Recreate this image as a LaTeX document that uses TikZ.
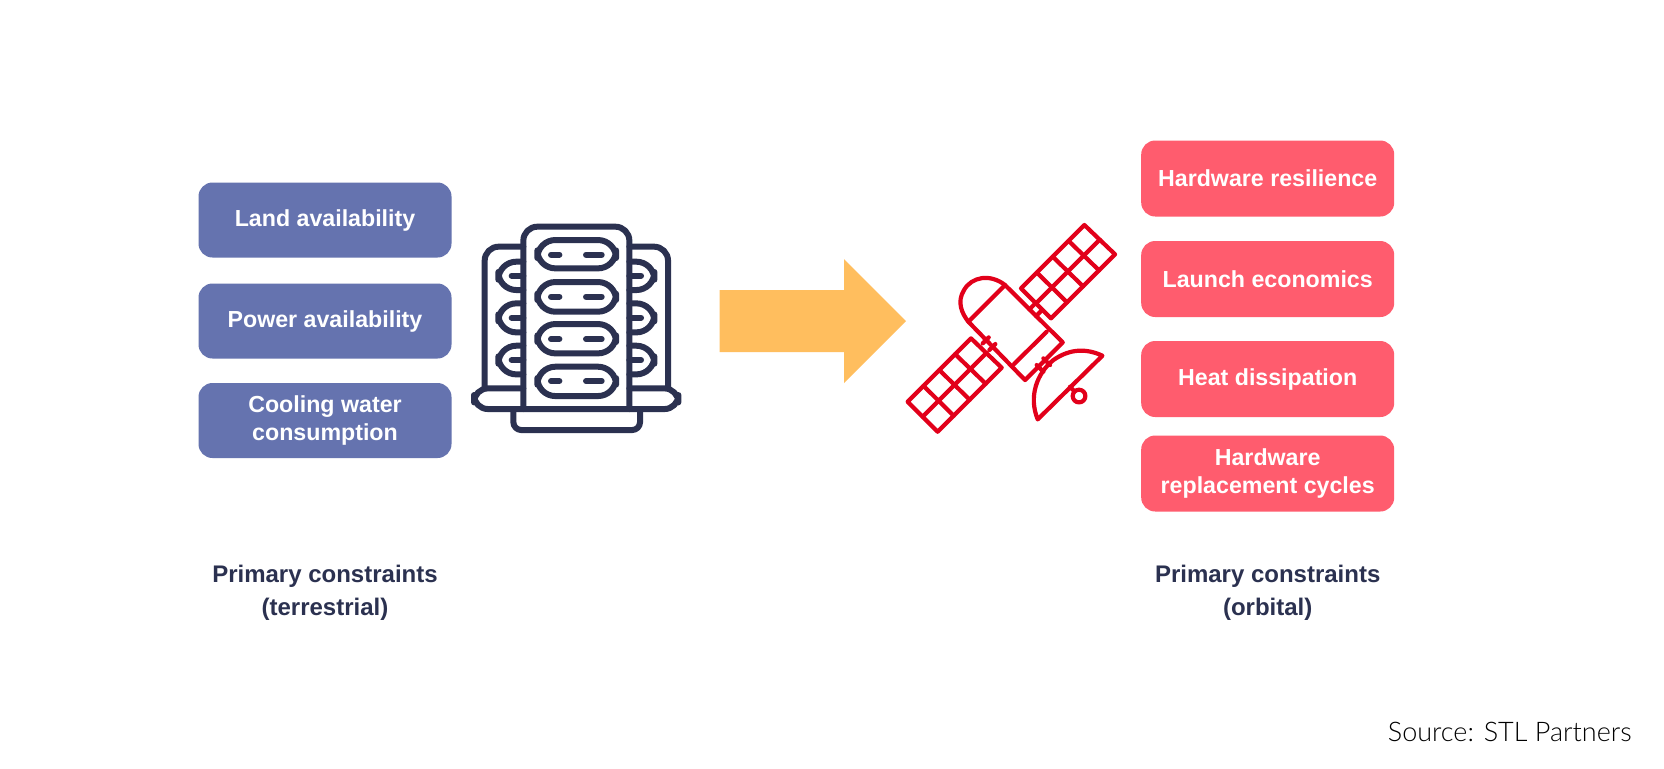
\documentclass[tikz,border=0pt]{standalone}
\usepackage{fontspec}
\setmainfont{Liberation Sans}
\newfontfamily\srcfont{Lato Light}
\definecolor{bluebox}{HTML}{6573AF}
\definecolor{redbox}{HTML}{FF5C6E}
\definecolor{navy}{HTML}{2B3150}
\definecolor{satred}{HTML}{E2001A}
\definecolor{arrowc}{HTML}{FFBE5E}
\tikzset{
  px/.style={x=0.5pt,y=-0.5pt},
  tile/.style={rounded corners=7pt,minimum width=126.5pt,inner sep=0pt,align=center,text=white,font=\fontsize{11.6}{14.4}\selectfont\bfseries},
  bluetile/.style={tile,fill=bluebox,minimum height=37.5pt},
  redtile/.style={tile,fill=redbox,minimum height=38pt},
  captext/.style={text=navy,align=center,font=\fontsize{12}{16.5}\selectfont\bfseries,inner sep=0pt},
  srv/.style={draw=navy,line width=3pt,line join=round,line cap=round,rounded corners=4pt},
  sat/.style={draw=satred,line width=2.1pt,line join=round,line cap=round},
}
\begin{document}
\begin{tikzpicture}[px]
\useasboundingbox (0,0) rectangle (1664,768);
\fill[white] (0,0) rectangle (1664,768);
\node[bluetile] (a1) at (325,220) {Land availability};
\node[bluetile] (a2) at (325,321) {Power availability};
\node[bluetile] (a3) at (325,420.5) {Cooling water\\consumption};
\node[redtile] (b1) at (1267.7,178.5) {Hardware resilience};
\node[redtile] (b2) at (1267.7,279) {Launch economics};
\node[redtile] (b3) at (1267.7,379) {Heat dissipation};
\node[redtile] (b4) at (1267.7,473.5) {Hardware\\replacement cycles};
\node[captext] (c1) at (325,592.5) {Primary constraints\\(terrestrial)};
\node[captext] (c2) at (1267.7,592.5) {Primary constraints\\(orbital)};
\node[anchor=east,inner sep=0pt,font=\fontsize{13.5}{15}\selectfont\srcfont] (s) at (1632,731.5) {Source: STL Partners};
\fill[arrowc] (719.5,290) -- (844,290) -- (844,259) -- (906,321) -- (844,383) -- (844,352) -- (719.5,352) -- cycle;
% server icon
\begin{scope}[shift={(460,210)},x=0.1667pt,y=-0.1667pt]
 \draw[srv,rounded corners=7pt] (190,597) -- (190,50) -- (508,50) -- (508,597);
 \foreach \ya/\yb in {90/175,216/305,342/430,470/558}{
   \draw[srv,rounded corners=9pt] (232,\ya) rectangle (468,\yb);
 }
 \foreach \yy in {134,260,387,513}{
   \draw[srv] (273,\yy) -- (298,\yy);
   \draw[srv] (378,\yy) -- (425,\yy);
 }
 \draw[srv,rounded corners=7pt] (74,530) -- (74,110) -- (190,110);
 \draw[srv,rounded corners=7pt] (624,530) -- (624,110) -- (508,110);
 \foreach \ya/\yb/\yc in {155/240/197,280/367/323,407/493/450}{
   \draw[srv,rounded corners=9pt] (190,\ya) -- (115,\ya) -- (115,\yb) -- (190,\yb);
   \draw[srv,rounded corners=9pt] (508,\ya) -- (583,\ya) -- (583,\yb) -- (508,\yb);
   \draw[srv] (155,\yc) -- (190,\yc);
   \draw[srv] (508,\yc) -- (543,\yc);
 }
 \draw[srv,rounded corners=7pt] (190,535) -- (42,535) -- (42,597) -- (655,597) -- (655,535) -- (508,535);
 \draw[srv,rounded corners=4pt] (160,600) -- (160,660) -- (540,660) -- (540,600);
\end{scope}
% satellite icon
\begin{scope}[shift={(890,210)},x=0.1667pt,y=-0.1667pt]
 % panels
 \foreach \ox/\oy in {0/0,-340/340}{
 \begin{scope}[shift={(\ox,\oy)}]
 \draw[sat] (583,45) -- (675,133) -- (483,325) -- (393,235) -- cycle;
 \draw[sat] (438,280) -- (629,89);
 \draw[sat] (440.5,187.5) -- (531,277);
 \draw[sat] (488,140) -- (579,229);
 \draw[sat] (535.5,92.5) -- (627,181);
 \end{scope}}
 % body
 \draw[sat] (345,225) -- (518,397) -- (405,510) -- (235,335) -- cycle;
 \draw[sat] (470,365) -- (372,462);
 \draw[sat] (345,225) .. controls (300,190) and (245,200) .. (222,240) .. controls (200,275) and (215,310) .. (235,335);
 % dish
 \draw[sat] (443,628) .. controls (415,560) and (440,490) .. (490,450) .. controls (540,415) and (590,415) .. (637,437) -- cycle;
 \draw[sat] (540,530) -- (552,543);
 \draw[sat] (567,558) circle[radius=19];
 % struts
 \draw[sat] (418,298) -- (436,280);
 \draw[sat] (438,318) -- (456,300);
 \draw[sat] (278,400) -- (296,382);
 \draw[sat] (298,420) -- (316,402);
 \draw[sat] (440,465) -- (460,485);
 \draw[sat] (460,445) -- (480,465);
\end{scope}
\end{tikzpicture}
\end{document}
